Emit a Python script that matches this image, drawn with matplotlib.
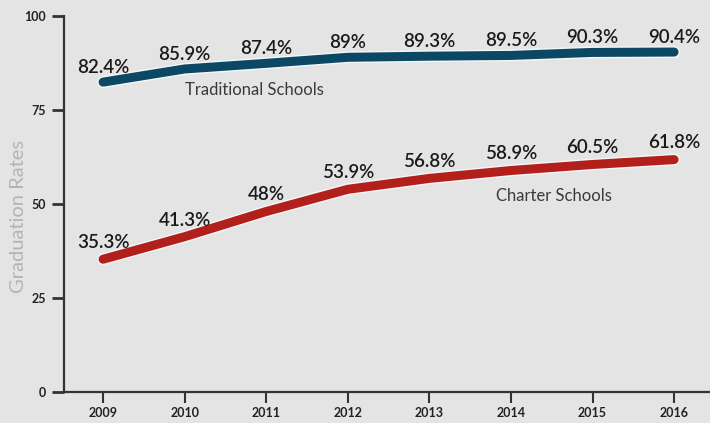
import matplotlib.pyplot as plt
import matplotlib.patheffects as pe

years = [2009, 2010, 2011, 2012, 2013, 2014, 2015, 2016]
traditional = [82.4, 85.9, 87.4, 89.0, 89.3, 89.5, 90.3, 90.4]
charter = [35.3, 41.3, 48.0, 53.9, 56.8, 58.9, 60.5, 61.8]
trad_labels = ["82.4%", "85.9%", "87.4%", "89%", "89.3%", "89.5%", "90.3%", "90.4%"]
charter_labels = ["35.3%", "41.3%", "48%", "53.9%", "56.8%", "58.9%", "60.5%", "61.8%"]

bg = "#e4e4e4"
plt.rcParams["font.family"] = ["Lato", "DejaVu Sans"]

fig = plt.figure(figsize=(7.10, 4.23), dpi=100, facecolor=bg)
ax = fig.add_axes([0.090, 0.0733, 0.910, 0.889], facecolor=bg)

halo = [pe.Stroke(linewidth=8.5, foreground="#f2f8f8"), pe.Normal()]
ax.plot(years, traditional, color="#0c4864", lw=6.5, solid_capstyle="round",
        solid_joinstyle="round", path_effects=halo, zorder=3)
ax.plot(years, charter, color="#b3201c", lw=6.5, solid_capstyle="round",
        solid_joinstyle="round", path_effects=halo, zorder=3)

# value labels above points
for x, y, t in zip(years, traditional, trad_labels):
    ax.annotate(t, (x, y), xytext=(0, 10.5), textcoords="offset points",
                ha="center", va="center", fontsize=13.5, color="#1a1a1a",
                fontweight="semibold", zorder=4)
for x, y, t in zip(years, charter, charter_labels):
    ax.annotate(t, (x, y), xytext=(0, 12), textcoords="offset points",
                ha="center", va="center", fontsize=13.5, color="#1a1a1a",
                fontweight="semibold", zorder=4)

# series names
ax.text(2010.85, 80.4, "Traditional Schools", ha="center", va="center",
        fontsize=12, color="#3a3a3a")
ax.text(2014.53, 52.0, "Charter Schools", ha="center", va="center",
        fontsize=12, color="#3a3a3a")

ax.set_xlim(2008.52, 2016.44)
ax.set_ylim(0, 100)
ax.set_xticks(years)
ax.set_yticks([0, 25, 50, 75, 100])
ax.tick_params(axis="x", length=8, width=1.5, color="#333333", labelsize=9,
               labelcolor="#222222", pad=3)
ax.tick_params(axis="y", length=9, width=2, color="#333333", labelsize=9,
               labelcolor="#222222", pad=4)
for lab in ax.get_xticklabels() + ax.get_yticklabels():
    lab.set_fontweight("bold")

for s in ["top", "right"]:
    ax.spines[s].set_visible(False)
for s in ["left", "bottom"]:
    ax.spines[s].set_color("#333333")
    ax.spines[s].set_linewidth(1.6)

ax.set_ylabel("Graduation Rates", fontsize=14.5, color="#b4b4b4")
ax.yaxis.set_label_coords(-0.057, 0.468)

fig.savefig("out.png", dpi=100, facecolor=bg)
